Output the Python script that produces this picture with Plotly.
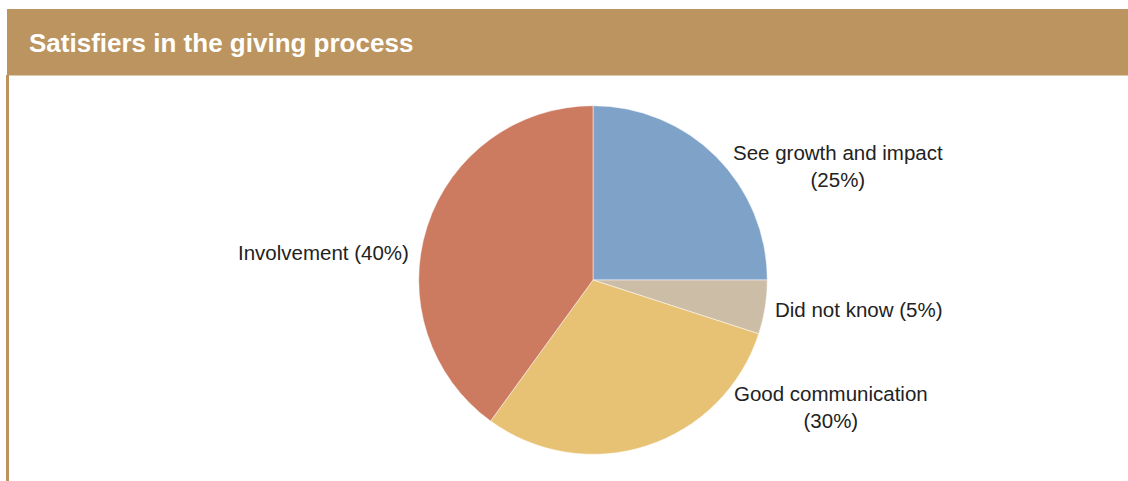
import plotly.graph_objects as go

# Survey results: what donors find satisfying in the giving process
categories = ["See growth and impact", "Did not know", "Good communication", "Involvement"]
shares = [25, 5, 30, 40]
slice_colors = ["#7FA2C9", "#CCBDA7", "#E8C274", "#CC7A60"]

W, H = 1128, 481
ACCENT = "#BB945F"


def px(x):
    return x / W


def py(y):
    return 1 - y / H


# pie centred at (593, 280) with radius ~174 px
cx, cy, r = 593, 280, 174.3

fig = go.Figure(
    go.Pie(
        labels=categories,
        values=shares,
        sort=False,
        direction="clockwise",
        rotation=0,
        marker=dict(colors=slice_colors, line=dict(color="white", width=0.5)),
        textinfo="none",
        hoverinfo="label+percent",
        showlegend=False,
        domain=dict(x=[px(cx - r), px(cx + r)], y=[py(cy + r), py(cy - r)]),
    )
)

label_font = dict(family="Liberation Sans, Arial, sans-serif", size=20.5, color="#222222")

# label text per slice, with a line break for the longer ones
label_text = {
    "See growth and impact": f"See growth and impact<br>({shares[0]}%)",
    "Did not know": f"Did not know ({shares[1]}%)",
    "Good communication": f"Good communication<br>({shares[2]}%)",
    "Involvement": f"Involvement ({shares[3]}%)",
}
label_pos = {
    "See growth and impact": (838, 166),
    "Did not know": (858, 309),
    "Good communication": (831, 407),
    "Involvement": (323, 252),
}

annotations = []
for name in categories:
    x, y = label_pos[name]
    annotations.append(
        dict(
            x=px(x), y=py(y), xref="paper", yref="paper",
            text=label_text[name], showarrow=False,
            xanchor="center", yanchor="middle", align="center",
            font=label_font,
        )
    )

# header title
annotations.append(
    dict(
        x=px(27), y=py(43), xref="paper", yref="paper",
        text="<b>Satisfiers in the giving process</b>", showarrow=False,
        xanchor="left", yanchor="middle",
        font=dict(family="Liberation Sans, Arial, sans-serif", size=26, color="white"),
    )
)

shapes = [
    # header band
    dict(type="rect", xref="paper", yref="paper",
         x0=px(7), x1=1.0, y0=py(75.5), y1=py(9),
         fillcolor=ACCENT, line=dict(width=0), layer="below"),
    # left rule under the header
    dict(type="rect", xref="paper", yref="paper",
         x0=px(6), x1=px(9), y0=0, y1=py(75),
         fillcolor=ACCENT, line=dict(width=0), layer="below"),
]

fig.update_layout(
    width=W, height=H,
    margin=dict(l=0, r=0, t=0, b=0),
    paper_bgcolor="white", plot_bgcolor="white",
    annotations=annotations, shapes=shapes,
)

fig.write_html("out.html")
